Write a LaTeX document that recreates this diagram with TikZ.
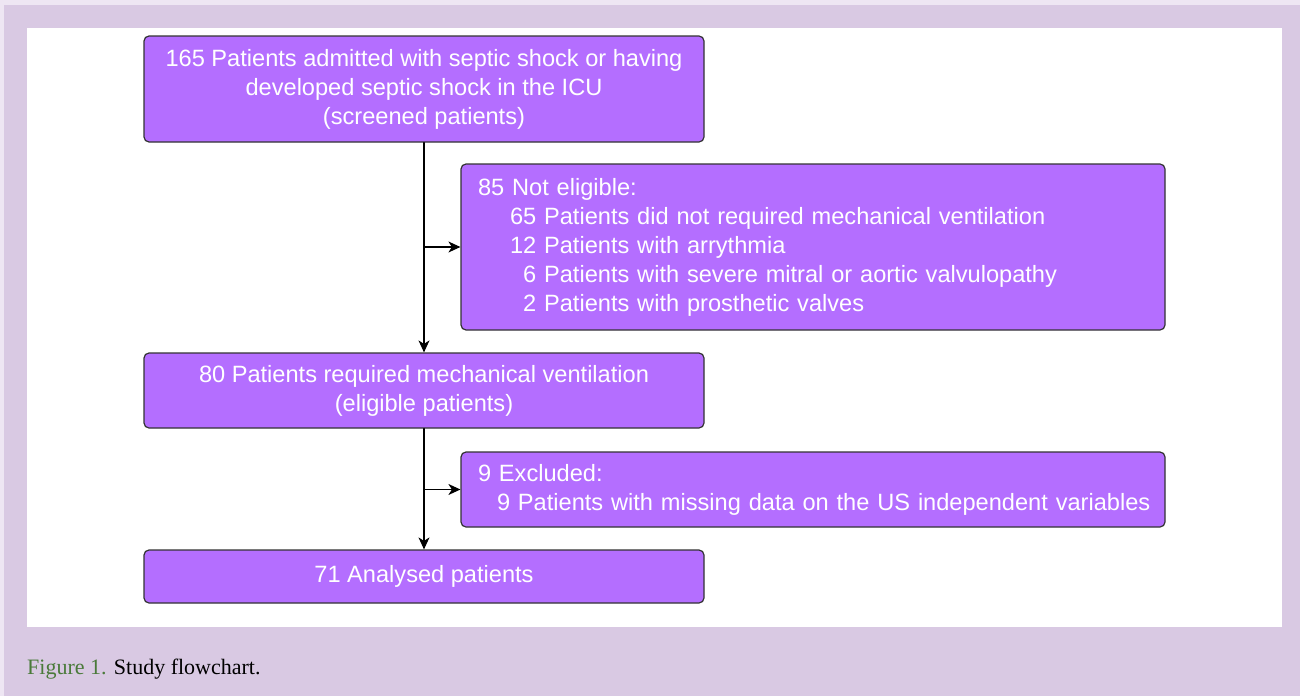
\documentclass[tikz,border=0pt]{standalone}
\usepackage{fontspec}
\usepackage{xcolor}
\usepackage{tikz}
\usetikzlibrary{arrows.meta}
\setmainfont{Liberation Sans}
\newfontfamily\capfont{Liberation Serif}

\definecolor{boxfill}{RGB}{180,110,255}
\definecolor{boxline}{RGB}{51,51,51}
\definecolor{panel}{RGB}{217,201,227}
\definecolor{paleedge}{RGB}{238,230,243}
\definecolor{figgreen}{RGB}{74,122,58}

\tikzset{
  flowbox/.style={rectangle, rounded corners=5pt, draw=boxline, line width=1.2pt,
    fill=boxfill, text=white, font=\fontsize{23.6}{29}\selectfont, inner ysep=0pt},
  mainbox/.style={flowbox, minimum width=560pt, align=center},
  sidebox/.style={flowbox, inner xsep=7pt, text width=690pt, align=left},
  flowarrow/.style={draw=black, line width=1.2pt, -{Stealth[length=12pt, width=11pt, inset=3.5pt]}}
}

\begin{document}
\begin{tikzpicture}[x=1pt, y=-1pt, line cap=round, line join=round]
    % Background panels
    \fill[paleedge] (0,0) rectangle (1300,696);
    \fill[panel] (4,5) rectangle (1300,696);
    \fill[white] (27,28) rectangle (1282,627);
    \useasboundingbox (0,0) rectangle (1300,696);

    % Nodes
    \node[mainbox, minimum height=106pt] (screened) at (424,89)
      {165 Patients admitted with septic shock or having\\developed septic shock in the ICU\\(screened patients)};
    \node[sidebox, minimum height=166pt] (notelig) at (813,247)
      {\hspace*{10pt}85 Not eligible:\\
       \hspace*{42pt}65 Patients did not required mechanical ventilation\\
       \hspace*{42pt}12 Patients with arrythmia\\
       \hspace*{42pt}\hphantom{0}6 Patients with severe mitral or aortic valvulopathy\\
       \hspace*{42pt}\hphantom{0}2 Patients with prosthetic valves};
    \node[mainbox, minimum height=75pt] (eligible) at (424,390.5)
      {80 Patients required mechanical ventilation\\(eligible patients)};
    \node[sidebox, minimum height=75pt] (excluded) at (813,489.5)
      {\hspace*{10pt}9 Excluded:\\
       \hspace*{29pt}9 Patients with missing data on the US independent variables};
    \node[mainbox, minimum height=53pt] (analysed) at (424,576.5)
      {71 Analysed patients};

    % Branch points
    \coordinate (split1) at (screened.south |- notelig.west);
    \coordinate (split2) at (eligible.south |- excluded.west);

    % Connections
    \draw[flowarrow] (screened) -- (eligible);
    \draw[flowarrow] (split1) -- (notelig);
    \draw[flowarrow] (eligible) -- (analysed);
    \draw[flowarrow] (split2) -- (excluded);

    % Caption
    \node[anchor=base west, inner sep=0pt, font=\capfont\fontsize{22}{26}\selectfont] (caption) at (27,674)
      {\textcolor{figgreen}{Figure 1.} Study flowchart.};
  \end{tikzpicture}
\end{document}
